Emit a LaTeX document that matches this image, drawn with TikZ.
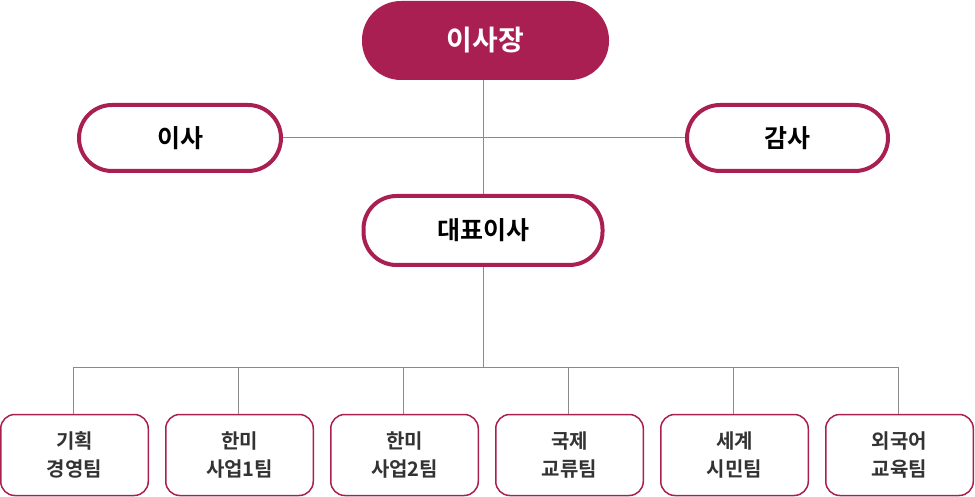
\documentclass[tikz,border=0pt]{standalone}
\usepackage{fontspec}
\setmainfont{Noto Sans CJK KR}[BoldFont={Noto Sans CJK KR Bold}]
\definecolor{crimson}{HTML}{AA1F52}
\definecolor{linkgray}{HTML}{8A8A8A}
\definecolor{textgray}{HTML}{333333}
\begin{document}
\begin{tikzpicture}[x=1pt, y=-1pt,
    link/.style={draw=linkgray, line width=1pt},
    pill/.style={draw=crimson, line width=4pt, fill=white, rounded corners=33pt,
                 inner sep=0pt, font=\bfseries\fontsize{25}{28}\selectfont},
    team/.style={draw=crimson, line width=1.5pt, fill=white, rounded corners=14pt,
                 minimum width=147.5pt, minimum height=81pt, inner sep=0pt, align=center,
                 text=textgray, font=\bfseries\fontsize{20}{28}\selectfont}]

        \useasboundingbox (0,0) rectangle (975,497);

        % 1) Chairman on top, filled
        \node[fill=crimson, rounded corners=39pt, minimum width=247pt, minimum height=79pt,
              text=white, font=\bfseries\fontsize{28}{30}\selectfont] (chair) at (485.5,40.5) {이사장};

        % 2) Director and auditor on both sides
        \node[pill, minimum width=202pt, minimum height=66pt] (director) at (180,138) {이사};
        \node[pill, minimum width=201pt, minimum height=66pt] (auditor) at (787.5,138) {감사};

        % 3) CEO below
        \node[pill, minimum width=239pt, minimum height=69pt] (ceo) at (483,230.5) {대표이사};

        % 4) Teams at the bottom
        \node[team] (t1) at (74.5,455) {기획\\경영팀};
        \node[team] (t2) at (239.5,455) {한미\\사업1팀};
        \node[team] (t3) at (404.5,455) {한미\\사업2팀};
        \node[team] (t4) at (569.5,455) {국제\\교류팀};
        \node[team] (t5) at (734.5,455) {세계\\시민팀};
        \node[team] (t6) at (899.5,455) {외국어\\교육팀};

        % Connectors
        \coordinate (bus) at (483,367);
        \draw[link] (chair.south -| ceo) -- (ceo.north);
        \draw[link] (director.east) -- (auditor.west);
        \draw[link] (ceo.south) -- (bus);
        \foreach \i in {1,...,6}
            \draw[link] (bus) -| ([xshift=-1.5pt]t\i.north);

    \end{tikzpicture}
\end{document}
